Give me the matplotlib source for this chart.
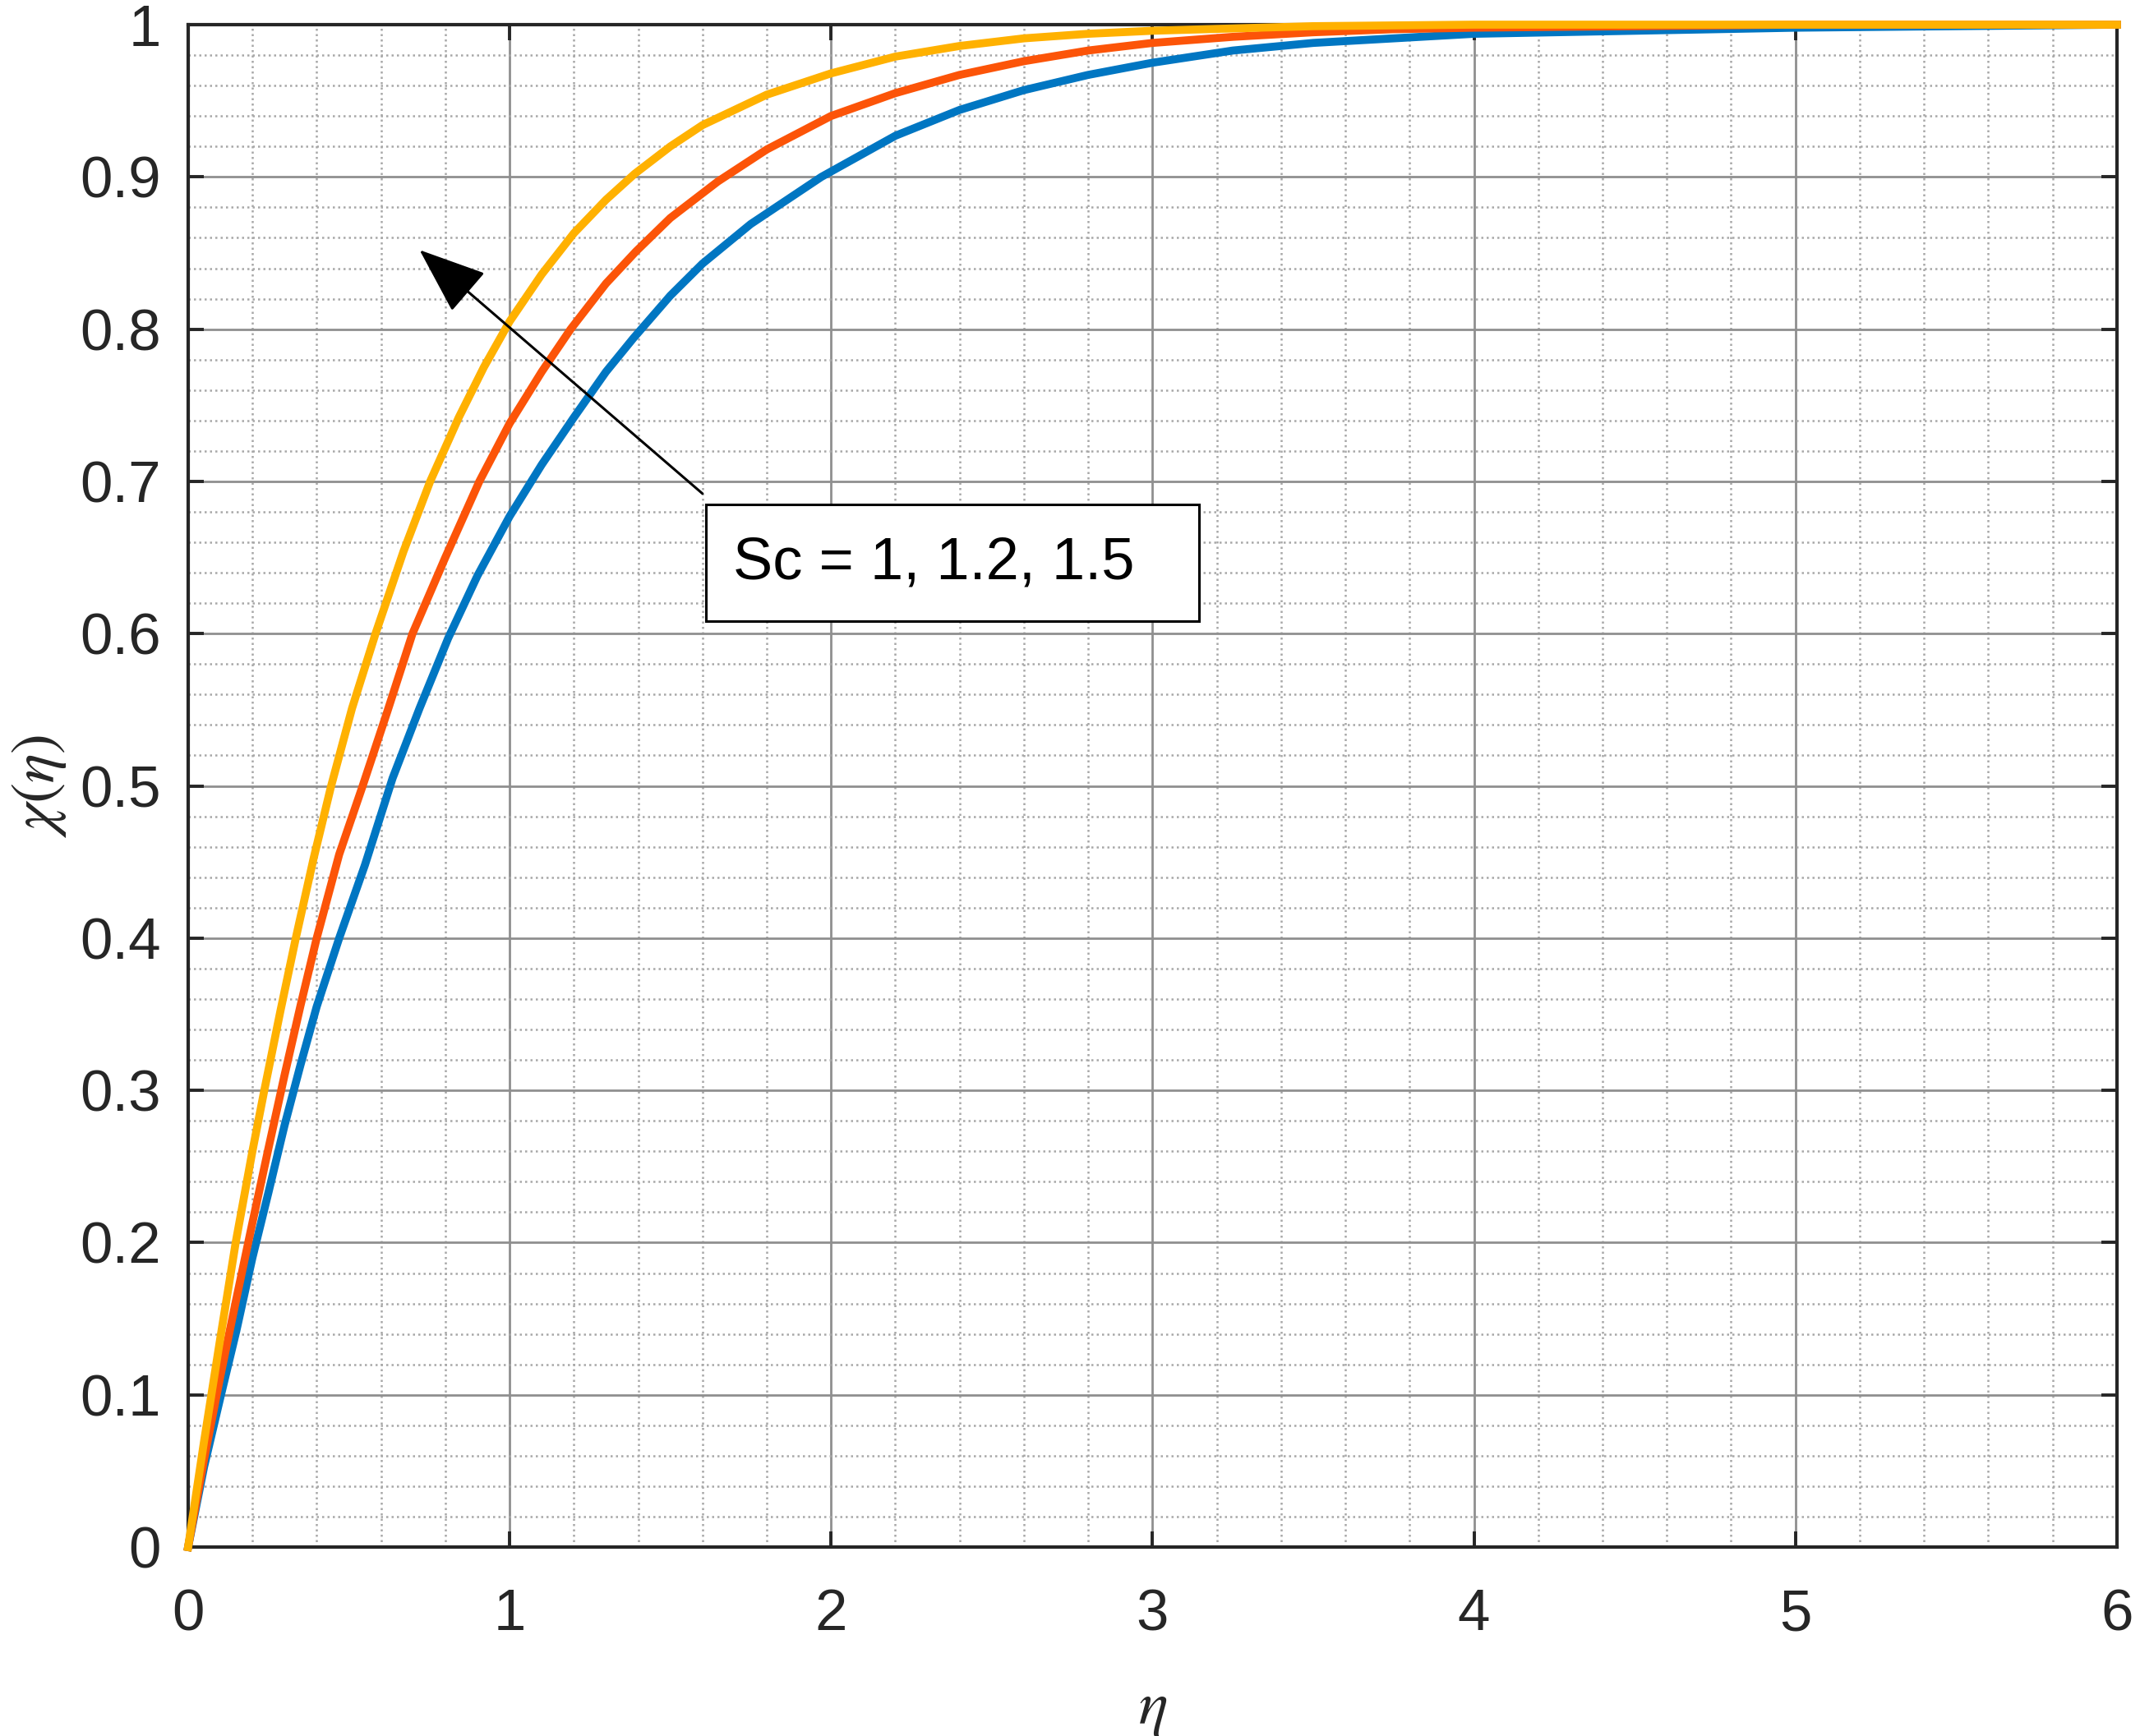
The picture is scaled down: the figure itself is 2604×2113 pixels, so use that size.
import numpy as np
import matplotlib
matplotlib.use("Agg")
import matplotlib.pyplot as plt
from matplotlib.patches import Rectangle
from matplotlib.ticker import MultipleLocator

# valeurs : eta -> chi(eta) pour Sc = 1, 1.2, 1.5
eta_sc1 = [0, 0.05, 0.10, 0.15, 0.20, 0.25, 0.30, 0.35, 0.40, 0.47, 0.55, 0.636,
           0.72, 0.809, 0.90, 1.0, 1.1, 1.2, 1.3, 1.385, 1.5, 1.6, 1.75, 1.97,
           2.2, 2.4, 2.6, 2.8, 3.0, 3.25, 3.5, 3.75, 4.0, 4.5, 5.0, 5.5, 6.0]
chi_sc1 = [0, 0.053, 0.098, 0.142, 0.19, 0.233, 0.277, 0.317, 0.355, 0.40, 0.448, 0.505,
           0.551, 0.597, 0.638, 0.677, 0.711, 0.742, 0.772, 0.794, 0.822, 0.843, 0.869, 0.90,
           0.927, 0.944, 0.957, 0.967, 0.975, 0.983, 0.988, 0.991, 0.994, 0.996, 0.998, 0.999, 1.0]

eta_sc12 = [0, 0.05, 0.10, 0.15, 0.20, 0.25, 0.30, 0.35, 0.40, 0.47, 0.543, 0.62,
            0.698, 0.80, 0.906, 1.0, 1.1, 1.19, 1.3, 1.393, 1.5, 1.648, 1.8, 2.0,
            2.2, 2.4, 2.6, 2.8, 3.0, 3.25, 3.5, 3.75, 4.0, 4.5, 5.0, 6.0]
chi_sc12 = [0, 0.058, 0.112, 0.163, 0.213, 0.262, 0.31, 0.356, 0.40, 0.455, 0.50, 0.549,
            0.60, 0.65, 0.70, 0.738, 0.772, 0.80, 0.83, 0.851, 0.873, 0.897, 0.918, 0.94,
            0.955, 0.967, 0.976, 0.983, 0.988, 0.992, 0.995, 0.997, 0.998, 0.999, 1.0, 1.0]

eta_sc15 = [0, 0.05, 0.10, 0.148, 0.20, 0.237, 0.287, 0.335, 0.39, 0.445, 0.51, 0.583,
            0.67, 0.753, 0.842, 0.92, 1.0, 1.1, 1.2, 1.3, 1.389, 1.5, 1.6, 1.8, 2.0,
            2.2, 2.4, 2.6, 2.8, 3.0, 3.5, 4.0, 5.0, 6.0]
chi_sc15 = [0, 0.07, 0.137, 0.2, 0.26, 0.30, 0.352, 0.40, 0.452, 0.50, 0.551, 0.60,
            0.654, 0.70, 0.742, 0.775, 0.805, 0.836, 0.863, 0.885, 0.902, 0.92, 0.934, 0.954, 0.968,
            0.979, 0.986, 0.991, 0.994, 0.996, 0.999, 1.0, 1.0, 1.0]

series = [(eta_sc1, chi_sc1, '#0076C2'),
          (eta_sc12, chi_sc12, '#FC5408'),
          (eta_sc15, chi_sc15, '#FFB100')]

xticks = [0, 1, 2, 3, 4, 5, 6]
yticks = [0, 0.1, 0.2, 0.3, 0.4, 0.5, 0.6, 0.7, 0.8, 0.9, 1]
yticklabels = ['0', '0.1', '0.2', '0.3', '0.4', '0.5', '0.6', '0.7', '0.8', '0.9', '1']

plt.rcParams['font.family'] = ['Liberation Sans', 'DejaVu Sans']
plt.rcParams['mathtext.fontset'] = 'stix'

fig = plt.figure(figsize=(13.02, 10.565), dpi=200)
ax = fig.add_axes([0.0879, 0.1088, 0.9013, 0.877])

for x, y, c in series:
    ax.plot(x, y, color=c, lw=3.5, clip_on=False, zorder=5,
            solid_joinstyle='round')

ax.set_xlim(0, 6)
ax.set_ylim(0, 1)
ax.set_xticks(xticks)
ax.set_xticklabels([str(t) for t in xticks])
ax.set_yticks(yticks)
ax.set_yticklabels(yticklabels)
ax.xaxis.set_minor_locator(MultipleLocator(0.2))
ax.yaxis.set_minor_locator(MultipleLocator(0.02))

ax.grid(True, which='major', color='#8f8f8f', lw=1.0, ls='-')
ax.grid(True, which='minor', color='#a8a8a8', lw=0.9, ls=(0, (1, 1.6)))
ax.set_axisbelow(True)

ax.tick_params(which='major', direction='in', length=7, width=1.4,
               top=True, right=True, labelsize=25.5, colors='#262626')
ax.tick_params(axis='x', which='major', pad=18)
ax.tick_params(axis='y', which='major', pad=12)
ax.tick_params(which='minor', length=0)
for s in ax.spines.values():
    s.set_linewidth(1.5)
    s.set_color('#262626')
    s.set_zorder(4)

ax.set_xlabel(r'$\eta$', fontsize=27, color='#262626')
ax.set_ylabel(r'$\chi(\eta)$', fontsize=27, color='#262626')
ax.xaxis.set_label_coords(0.5, -0.088)
ax.yaxis.set_label_coords(-0.062, 0.5)

# boite d'annotation et fleche
ax.add_patch(Rectangle((1.61, 0.608), 1.534, 0.077, fill=True, facecolor='white',
                       edgecolor='black', lw=1.1, zorder=6))
ax.text(2.32, 0.646, 'Sc = 1, 1.2, 1.5', fontsize=26, ha='center', va='center',
        color='black', zorder=7)
ax.annotate('', xy=(0.72, 0.852), xytext=(1.60, 0.692),
            arrowprops=dict(arrowstyle='-|>,head_length=1.3,head_width=0.5',
                            mutation_scale=20, color='black', lw=1.1,
                            shrinkA=0, shrinkB=0),
            zorder=7)

fig.savefig('out.png', dpi=200, facecolor='white')
